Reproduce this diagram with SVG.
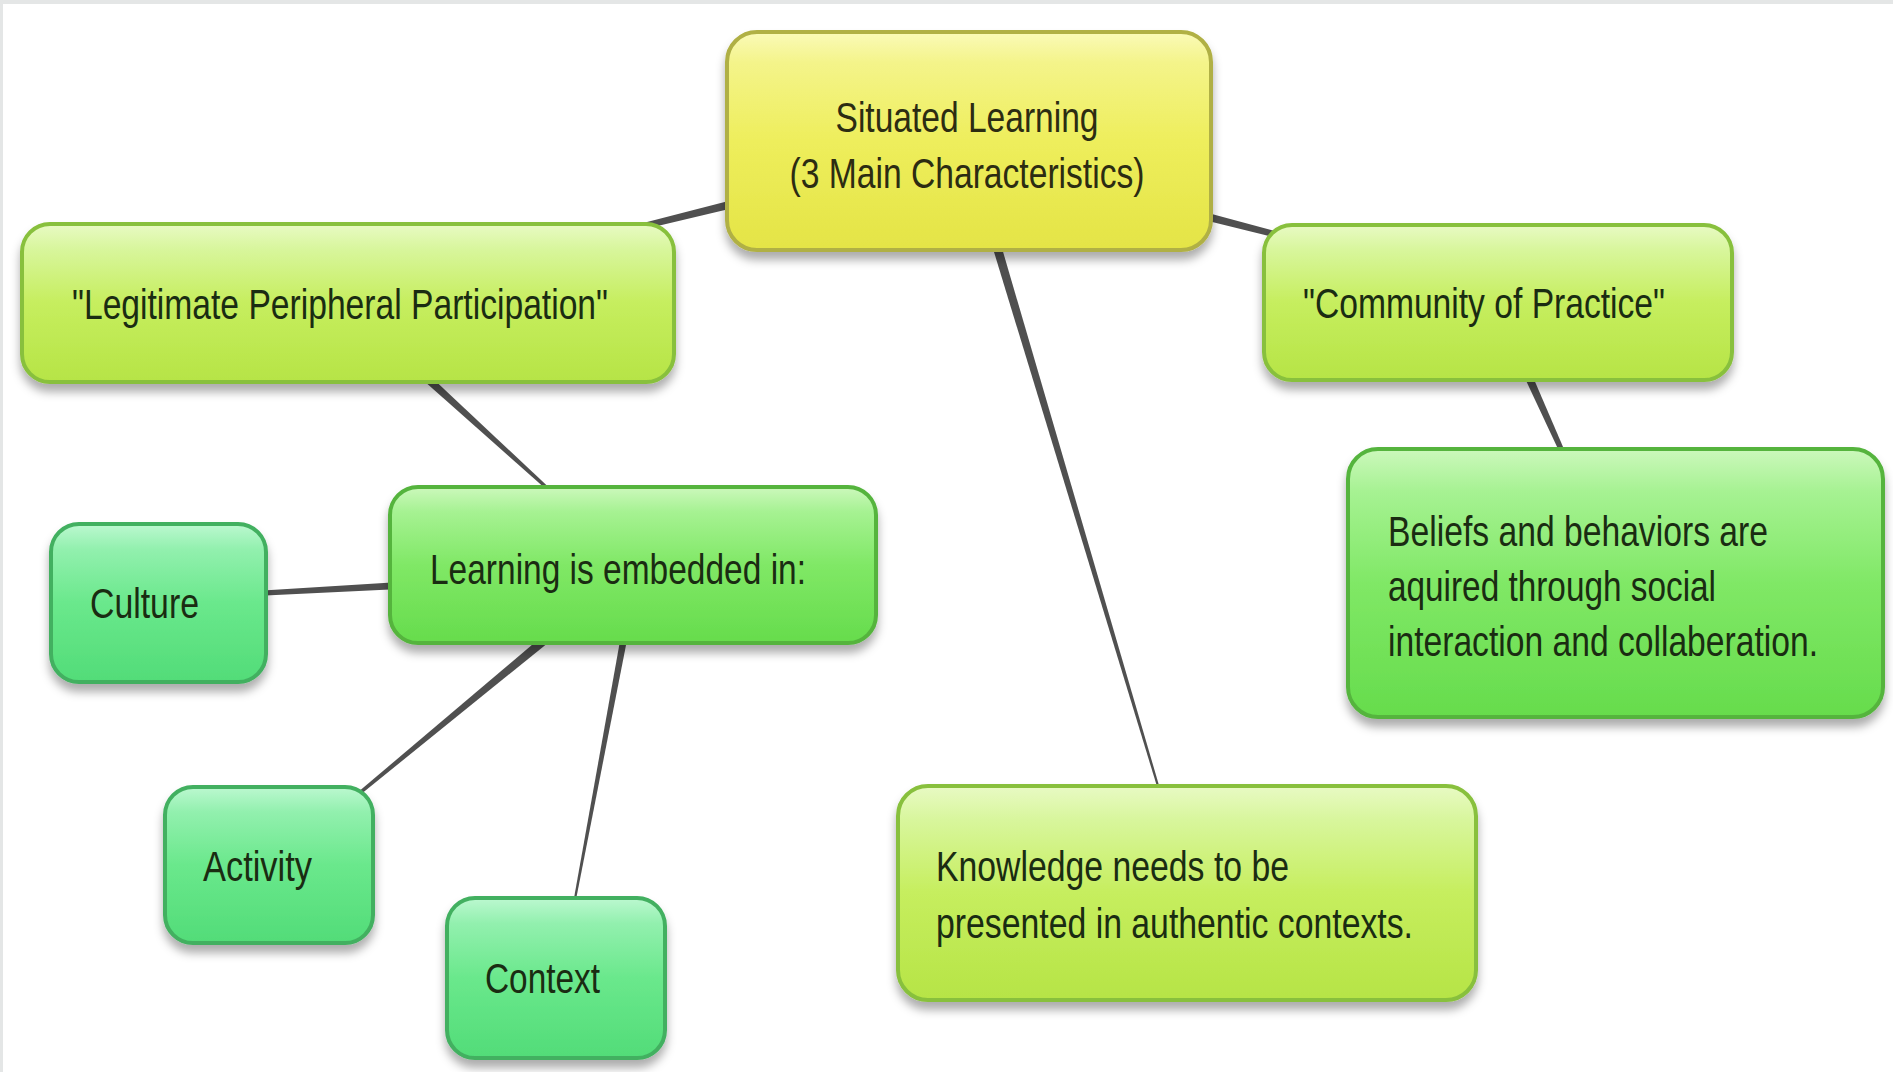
<svg xmlns="http://www.w3.org/2000/svg" width="1893" height="1072" viewBox="0 0 1893 1072">
  <defs>
    <linearGradient id="gYellow" x1="0" y1="0" x2="0" y2="1">
      <stop offset="0" stop-color="#fafab8"/>
      <stop offset="0.14" stop-color="#f4f48a"/>
      <stop offset="0.5" stop-color="#eeee5c"/>
      <stop offset="1" stop-color="#e4e446"/>
    </linearGradient>
    <linearGradient id="gLime" x1="0" y1="0" x2="0" y2="1">
      <stop offset="0" stop-color="#e8fac4"/>
      <stop offset="0.16" stop-color="#d8f69c"/>
      <stop offset="0.5" stop-color="#c6ee5e"/>
      <stop offset="1" stop-color="#b6e446"/>
    </linearGradient>
    <linearGradient id="gGreen" x1="0" y1="0" x2="0" y2="1">
      <stop offset="0" stop-color="#ccf8bc"/>
      <stop offset="0.16" stop-color="#a6f292"/>
      <stop offset="0.5" stop-color="#80e866"/>
      <stop offset="1" stop-color="#66dc4c"/>
    </linearGradient>
    <linearGradient id="gTeal" x1="0" y1="0" x2="0" y2="1">
      <stop offset="0" stop-color="#bcf8d0"/>
      <stop offset="0.16" stop-color="#92f0ae"/>
      <stop offset="0.5" stop-color="#6ae88c"/>
      <stop offset="1" stop-color="#52dc78"/>
    </linearGradient>
    <filter id="shadow" x="-10%" y="-10%" width="120%" height="130%">
      <feDropShadow dx="0" dy="8" stdDeviation="5" flood-color="#000" flood-opacity="0.32"/>
    </filter>
  </defs>
  <style>
    .node rect { stroke-width: 4; filter: url(#shadow); }
    .yellow rect { fill: url(#gYellow); stroke: #b0b044; }
    .lime rect { fill: url(#gLime); stroke: #88c03c; }
    .green rect { fill: url(#gGreen); stroke: #54b43e; }
    .teal rect { fill: url(#gTeal); stroke: #42b060; }
    .node text { font-family: "Liberation Sans", Arial, sans-serif; font-size: 42px; fill: #1a2c12; }
    .yellow text { fill: #2c2c12; }
    .mid { text-anchor: middle; }
    #connectors polygon { fill: #505050; }
  </style>

  <!-- page background and frame edges -->
  <rect x="0" y="0" width="1893" height="1072" fill="#ffffff"/>
  <rect x="0" y="0" width="1893" height="4" fill="#e4e6e6"/>
  <rect x="0" y="0" width="3" height="1072" fill="#e4e6e6"/>

  <!-- tapered links, wide at the parent end -->
  <g id="connectors">
    <polygon points="744.0,197.1 639.3,224.1 640.7,229.9 746.0,204.9"/>
    <polygon points="1196.0,209.7 1285.75,233.9 1284.25,239.7 1194.0,217.5"/>
    <polygon points="996.3,228.7 1162.3,796.7 1160.3,797.3 987.7,231.3"/>
    <polygon points="422.7,369.0 558.0,495.9 556.0,498.1 417.3,375.0"/>
    <polygon points="399.8,581.9 254.9,591.1 255.1,596.1 400.2,588.9"/>
    <polygon points="550.1,629.5 349.0,799.8 351.0,802.2 555.9,636.5"/>
    <polygon points="621.5,632.4 572.1,908.8 574.1,909.2 628.3,633.6"/>
    <polygon points="1530.2,370.4 1567.8,458.0 1563.2,460.0 1522.8,373.6"/>
  </g>

  <g id="situated-learning" class="node yellow">
    <rect x="727" y="32" width="484" height="218" rx="30"/>
    <text class="mid" x="967" y="132" textLength="263" lengthAdjust="spacingAndGlyphs">Situated Learning</text>
    <text class="mid" x="967" y="188" textLength="355" lengthAdjust="spacingAndGlyphs">(3 Main Characteristics)</text>
  </g>

  <g id="legitimate-peripheral-participation" class="node lime">
    <rect x="22" y="224" width="652" height="158" rx="28"/>
    <text x="72" y="319" textLength="536" lengthAdjust="spacingAndGlyphs">"Legitimate Peripheral Participation"</text>
  </g>

  <g id="community-of-practice" class="node lime">
    <rect x="1264" y="225" width="468" height="155" rx="28"/>
    <text x="1303" y="318" textLength="362" lengthAdjust="spacingAndGlyphs">"Community of Practice"</text>
  </g>

  <g id="learning-embedded" class="node green">
    <rect x="390" y="487" width="486" height="156" rx="28"/>
    <text x="430" y="584" textLength="376" lengthAdjust="spacingAndGlyphs">Learning is embedded in:</text>
  </g>

  <g id="beliefs-behaviors" class="node green">
    <rect x="1348" y="449" width="535" height="268" rx="30"/>
    <text x="1388" y="546" textLength="380" lengthAdjust="spacingAndGlyphs">Beliefs and behaviors are</text>
    <text x="1388" y="601" textLength="328" lengthAdjust="spacingAndGlyphs">aquired through social</text>
    <text x="1388" y="656" textLength="430" lengthAdjust="spacingAndGlyphs">interaction and collaberation.</text>
  </g>

  <g id="culture" class="node teal">
    <rect x="51" y="524" width="215" height="158" rx="28"/>
    <text x="90" y="618" textLength="109" lengthAdjust="spacingAndGlyphs">Culture</text>
  </g>

  <g id="activity" class="node teal">
    <rect x="165" y="787" width="208" height="156" rx="28"/>
    <text x="203" y="881" textLength="109" lengthAdjust="spacingAndGlyphs">Activity</text>
  </g>

  <g id="context" class="node teal">
    <rect x="447" y="898" width="218" height="160" rx="28"/>
    <text x="485" y="993" textLength="115" lengthAdjust="spacingAndGlyphs">Context</text>
  </g>

  <g id="knowledge-authentic" class="node lime">
    <rect x="898" y="786" width="578" height="214" rx="30"/>
    <text x="936" y="881" textLength="353" lengthAdjust="spacingAndGlyphs">Knowledge needs to be</text>
    <text x="936" y="938" textLength="477" lengthAdjust="spacingAndGlyphs">presented in authentic contexts.</text>
  </g>
</svg>
